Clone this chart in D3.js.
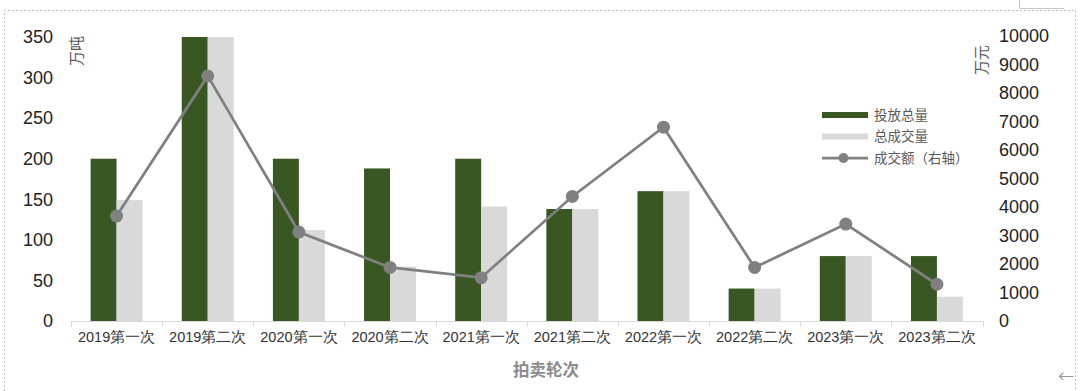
<!DOCTYPE html>
<html>
<head>
<meta charset="utf-8">
<script src="https://cdn.jsdelivr.net/npm/d3@7"></script>
<style>
  body { margin: 0; background: #fff; }
  svg { display: block; font-family: "Liberation Sans", Arial, "Noto Sans CJK SC", sans-serif; }
  .domain { display: none; }
</style>
</head>
<body>
<div id="chart"></div>
<script>
// rounds of the auction
var categories = ["2019第一次", "2019第二次", "2020第一次", "2020第二次", "2021第一次",
                  "2021第二次", "2022第一次", "2022第二次", "2023第一次", "2023第二次"];
// 投放总量 (万吨)
var released = [200, 350, 200, 188, 200, 138, 160, 40, 80, 80];
// 总成交量 (万吨)
var traded = [149, 350, 112, 67, 141, 138, 160, 40, 80, 30];
// 成交额 (万元, right axis)
var turnover = [3680, 8600, 3120, 1880, 1520, 4370, 6800, 1880, 3400, 1290];

var leftTicks = [0, 50, 100, 150, 200, 250, 300, 350];
var rightTicks = [0, 1000, 2000, 3000, 4000, 5000, 6000, 7000, 8000, 9000, 10000];
var seriesNames = ["投放总量", "总成交量", "成交额（右轴）"];

var W = 1080, H = 391;
var green = "#385723", lightGray = "#d9d9d9", lineGray = "#808080";

var svg = d3.select("#chart").append("svg")
    .attr("width", W)
    .attr("height", H);

// dashed frame of the chart area
svg.append("path")
    .attr("d", "M4.5,391 V10.5 H1075.5 V391")
    .attr("fill", "none")
    .attr("stroke", "#bfbfbf")
    .attr("stroke-dasharray", "2,2");
svg.append("path")
    .attr("d", "M1019.5,0 V8.5 H1064")
    .attr("fill", "none")
    .attr("stroke", "#c8c8c8");

var x0 = d3.scaleBand()
    .domain(categories)
    .range([71, 982.5])
    .paddingInner(0.43)
    .paddingOuter(0.215);

var x1 = d3.scaleBand()
    .domain([0, 1])
    .range([0, x0.bandwidth()]);

var yL = d3.scaleLinear().domain([0, 350]).range([321, 37]);
var yR = d3.scaleLinear().domain([0, 10000]).range([321, 36]);

// bars
var groups = svg.append("g").selectAll("g")
    .data(categories)
    .enter().append("g")
    .attr("transform", function (d) { return "translate(" + x0(d) + ",0)"; });

groups.append("rect")
    .attr("x", x1(0))
    .attr("width", x1.bandwidth())
    .attr("y", function (d, i) { return yL(released[i]); })
    .attr("height", function (d, i) { return yL(0) - yL(released[i]); })
    .attr("fill", green);

groups.append("rect")
    .attr("x", x1(1))
    .attr("width", x1.bandwidth())
    .attr("y", function (d, i) { return yL(traded[i]); })
    .attr("height", function (d, i) { return yL(0) - yL(traded[i]); })
    .attr("fill", lightGray);

// category axis
var step = x0.step();
var xAxis = svg.append("g")
    .attr("transform", "translate(0," + yL(0) + ")")
    .call(d3.axisBottom(x0).tickSize(0).tickPadding(11));
xAxis.selectAll("text")
    .style("font-size", "14.5px")
    .attr("fill", "#333");

svg.append("line")
    .attr("x1", x0.range()[0]).attr("x2", x0.range()[1])
    .attr("y1", yL(0) + 0.5).attr("y2", yL(0) + 0.5)
    .attr("stroke", "#d9d9d9");

var bounds = categories.map(function (c) { return x0(c) - step * x0.paddingInner() / 2; });
bounds.push(x0.range()[1]);
svg.append("g").selectAll("line")
    .data(bounds)
    .enter().append("line")
    .attr("x1", function (d) { return Math.round(d) + 0.5; })
    .attr("x2", function (d) { return Math.round(d) + 0.5; })
    .attr("y1", yL(0))
    .attr("y2", yL(0) + 6)
    .attr("stroke", "#d9d9d9");

// value axes
var leftAxis = svg.append("g")
    .attr("transform", "translate(53,0)")
    .call(d3.axisLeft(yL).tickValues(leftTicks).tickSize(0).tickPadding(0));
leftAxis.selectAll("text").style("font-size", "18px").attr("fill", "#222");

var rightAxis = svg.append("g")
    .attr("transform", "translate(999,0)")
    .call(d3.axisRight(yR).tickValues(rightTicks).tickFormat(d3.format("d")).tickSize(0).tickPadding(0));
rightAxis.selectAll("text").style("font-size", "18px").attr("fill", "#222");

// unit labels
svg.append("text")
    .attr("transform", "translate(82,51) rotate(-90)")
    .attr("text-anchor", "middle")
    .style("font-family", "'Noto Sans CJK SC', sans-serif")
    .style("font-size", "15px")
    .attr("fill", "#595959")
    .text("万吨");

svg.append("text")
    .attr("transform", "translate(987,60) rotate(-90)")
    .attr("text-anchor", "middle")
    .style("font-family", "'Noto Sans CJK SC', sans-serif")
    .style("font-size", "15px")
    .attr("fill", "#595959")
    .text("万元");

svg.append("text")
    .attr("x", 546)
    .attr("y", 376)
    .attr("text-anchor", "middle")
    .style("font-family", "'Noto Sans CJK SC', sans-serif")
    .style("font-size", "16.5px")
    .style("font-weight", "bold")
    .attr("fill", "#8c8c8c")
    .text("拍卖轮次");

// turnover line
var line = d3.line()
    .x(function (d, i) { return x0(categories[i]) + x0.bandwidth() / 2; })
    .y(function (d) { return yR(d); });

svg.append("path")
    .datum(turnover)
    .attr("d", line)
    .attr("fill", "none")
    .attr("stroke", lineGray)
    .attr("stroke-width", 2.75);

svg.append("g").selectAll("circle")
    .data(turnover)
    .enter().append("circle")
    .attr("cx", function (d, i) { return x0(categories[i]) + x0.bandwidth() / 2; })
    .attr("cy", function (d) { return yR(d); })
    .attr("r", 6.5)
    .attr("fill", lineGray);

// legend
var legend = svg.append("g").attr("transform", "translate(822,115)");
var rowGap = 21.5;

legend.append("rect")
    .attr("x", 0).attr("y", -3).attr("width", 46).attr("height", 6)
    .attr("fill", green);
legend.append("rect")
    .attr("x", 0).attr("y", rowGap - 3).attr("width", 46).attr("height", 6)
    .attr("fill", lightGray);
legend.append("line")
    .attr("x1", 0).attr("x2", 46)
    .attr("y1", rowGap * 2).attr("y2", rowGap * 2)
    .attr("stroke", lineGray).attr("stroke-width", 2.75);
legend.append("circle")
    .attr("cx", 21.5).attr("cy", rowGap * 2).attr("r", 5)
    .attr("fill", lineGray);

legend.selectAll("text")
    .data(seriesNames)
    .enter().append("text")
    .attr("x", 52)
    .attr("y", function (d, i) { return i * rowGap; })
    .attr("dy", "0.35em")
    .style("font-family", "'Noto Sans CJK SC', sans-serif")
    .style("font-size", "13.5px")
    .attr("fill", "#595959")
    .text(function (d) { return d; });

// small arrow glyph at the lower right edge
svg.append("text")
    .attr("x", 1058).attr("y", 382)
    .style("font-family", "'Noto Sans CJK SC', sans-serif")
    .style("font-size", "16px")
    .attr("fill", "#9a9a9a")
    .text("←");
</script>
</body>
</html>
